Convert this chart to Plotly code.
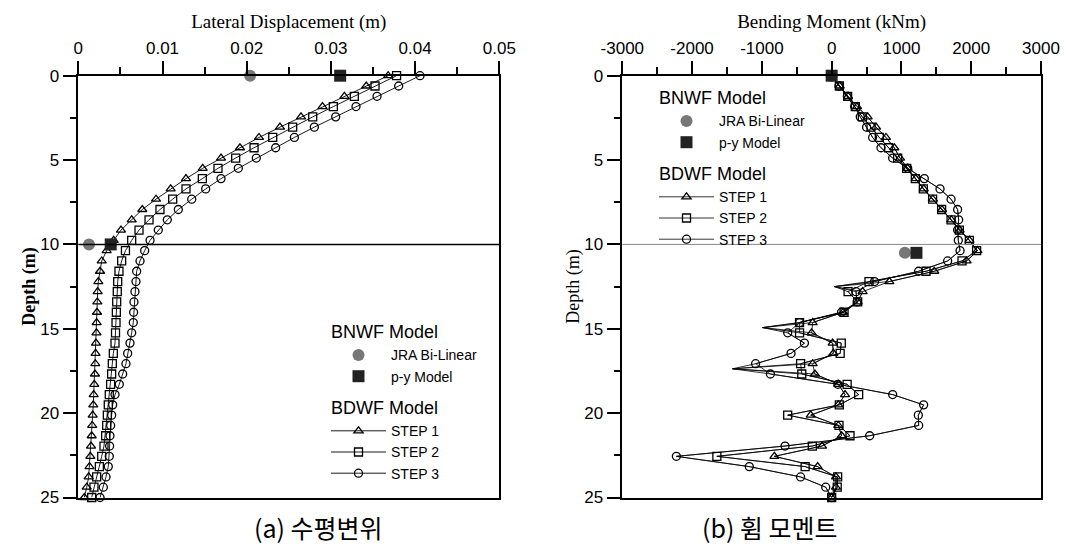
import plotly.graph_objects as go

# ---------------- data ----------------
depth = [0.00, 0.61, 1.22, 1.83, 2.44, 3.05, 3.66, 4.27, 4.88, 5.49, 6.10, 6.71, 7.32, 7.93,
         8.54, 9.15, 9.76, 10.37, 10.98, 11.59, 12.20, 12.80, 13.41, 14.02, 14.63, 15.24, 15.85,
         16.46, 17.07, 17.68, 18.29, 18.90, 19.51, 20.12, 20.73, 21.34, 21.95, 22.56, 23.17,
         23.78, 24.39, 25.00]

disp_step1 = [0.0368, 0.0342, 0.0316, 0.0290, 0.02645, 0.02395, 0.02146, 0.0192, 0.01695, 0.01477,
              0.01279, 0.01097, 0.00923, 0.0076, 0.00634, 0.00507, 0.0042, 0.00337, 0.00278, 0.00258,
              0.00238, 0.0023, 0.00226, 0.00222, 0.00218, 0.00216, 0.0021, 0.00205, 0.00202, 0.00198,
              0.0019, 0.00183, 0.00178, 0.00171, 0.00165, 0.00159, 0.00151, 0.00143, 0.00133, 0.00123,
              0.001, 0.00071]
disp_step2 = [0.0378, 0.03524, 0.03278, 0.03029, 0.02784, 0.02546, 0.02309, 0.02087, 0.01869, 0.01659,
              0.01473, 0.01279, 0.01121, 0.0097, 0.0084, 0.00721, 0.00634, 0.0056, 0.00515, 0.00483,
              0.00468, 0.00463, 0.00456, 0.00452, 0.00448, 0.00442, 0.00436, 0.00416, 0.00404, 0.00396,
              0.00384, 0.00368, 0.00356, 0.00345, 0.00337, 0.00325, 0.00305, 0.00278, 0.0025, 0.00218,
              0.00186, 0.00159]
disp_step3 = [0.04058, 0.03805, 0.03548, 0.03298, 0.03057, 0.02803, 0.02566, 0.02344, 0.02114, 0.019,
              0.01695, 0.01513, 0.01347, 0.01188, 0.01057, 0.0095, 0.00852, 0.00788, 0.00733, 0.00693,
              0.00685, 0.00673, 0.00661, 0.00657, 0.00653, 0.00634, 0.00614, 0.00586, 0.00566, 0.00527,
              0.00487, 0.00436, 0.00408, 0.00396, 0.00384, 0.00376, 0.00372, 0.00368, 0.00356, 0.00329,
              0.00297, 0.00258]

moment_step1 = [0, 115, 235, 364, 516, 636, 779, 898, 980, 1089, 1205, 1320, 1450, 1580, 1715, 1835,
                1975, 2090, 1934, 1471, 827, 444, 373, 165, -272, -287, 14, 24, -272, -240, 96, 192,
                95, -300, 95, 143, -138, -821, -200, 62, 62, 0]
moment_step2 = [0, 110, 229, 340, 440, 564, 683, 816, 946, 1075, 1199, 1314, 1447, 1576, 1711, 1830,
                1973, 2077, 1868, 1352, 535, 235, 373, 178, -460, -460, 138, 122, -445, -428, 222, 387,
                110, -630, 105, 263, -277, -1645, -380, 86, 80, 0]
moment_step3 = [0, 105, 225, 330, 410, 501, 587, 707, 874, 1090, 1328, 1553, 1711, 1805, 1820, 1805,
                1815, 1840, 1662, 1246, 615, 349, 365, 141, -460, -630, -390, -582, -1090, -878, 90, 874,
                1318, 1242, 1247, 545, -668, -2225, -1180, -445, -85, 0]

# line-only vertices (sharp spikes in the moment curves, no marker)
spike_depth = [12.50, 14.93, 17.37]
spike_moment = [39, -990, -1420]

# BNWF model results
bnwf_disp_depth = [0, 10]
jra_disp = [0.0204, 0.00127]
py_disp = [0.0311, 0.00385]
bnwf_mom_depth = [0, 10.5]
jra_moment = [0, 1050]
py_moment = [0, 1215]

boundary_depth = 10

disp_ticks = [0, 0.01, 0.02, 0.03, 0.04, 0.05]
disp_ticklabels = ['0', '0.01', '0.02', '0.03', '0.04', '0.05']
mom_ticks = [-3000, -2000, -1000, 0, 1000, 2000, 3000]
mom_ticklabels = ['-3000', '-2000', '-1000', '0', '1000', '2000', '3000']
depth_ticks = [0, 5, 10, 15, 20, 25]

# ---------------- figure ----------------
W, H = 1066, 544
SANS = 'Liberation Sans'
SERIF = 'Liberation Serif'

fig = go.Figure()

steps = [('STEP 1', 'triangle-up-open', 8), ('STEP 2', 'square-open', 8), ('STEP 3', 'circle-open', 8)]
disp_series = [disp_step1, disp_step2, disp_step3]
mom_series = [moment_step1, moment_step2, moment_step3]
GT_FONT = dict(family=SANS, size=18, color='black')


def merged(values, extra_d, extra_v):
    pts = list(zip(depth, values)) + list(zip(extra_d, extra_v))
    pts.sort(key=lambda p: p[0])
    return [p[1] for p in pts], [p[0] for p in pts]


for k, (name, sym, sz) in enumerate(steps):
    # left panel
    fig.add_trace(go.Scatter(
        x=disp_series[k], y=depth, mode='lines+markers', name=name,
        line=dict(color='black', width=0.9),
        marker=dict(symbol=sym, size=sz, color='black', line=dict(color='black', width=1.3)),
        xaxis='x', yaxis='y', legend='legend', legendgroup='bdwf', legendrank=10 + k,
        legendgrouptitle=dict(text='BDWF Model', font=GT_FONT),
        cliponaxis=False))
    # right panel: line including spikes, markers only at nodes
    lx, ly = merged(mom_series[k], spike_depth, spike_moment)
    fig.add_trace(go.Scatter(
        x=lx, y=ly, mode='lines', showlegend=False,
        line=dict(color='black', width=0.8), xaxis='x2', yaxis='y2', cliponaxis=False))
    fig.add_trace(go.Scatter(
        x=mom_series[k], y=depth, mode='lines+markers', name=name,
        line=dict(color='black', width=0.8),
        marker=dict(symbol=sym, size=sz, color='black', line=dict(color='black', width=1.3)),
        xaxis='x2', yaxis='y2', legend='legend2', legendgroup='bdwf2', legendrank=10 + k,
        legendgrouptitle=dict(text='BDWF Model', font=GT_FONT),
        cliponaxis=False))

# BNWF markers
for xa, ya, lg, dd, jv, pv, grp in [('x', 'y', 'legend', bnwf_disp_depth, jra_disp, py_disp, 'bnwf'),
                                    ('x2', 'y2', 'legend2', bnwf_mom_depth, jra_moment, py_moment, 'bnwf2')]:
    fig.add_trace(go.Scatter(
        x=jv, y=dd, mode='markers', name='JRA Bi-Linear',
        marker=dict(symbol='circle', size=12, color='#777777'),
        xaxis=xa, yaxis=ya, legend=lg, legendgroup=grp, legendrank=1,
        legendgrouptitle=dict(text='BNWF Model', font=GT_FONT),
        cliponaxis=False))
    fig.add_trace(go.Scatter(
        x=pv, y=dd, mode='markers', name='p-y Model',
        marker=dict(symbol='square', size=12, color='#222222'),
        xaxis=xa, yaxis=ya, legend=lg, legendgroup=grp, legendrank=2,
        cliponaxis=False))

x1dom = [78.3 / W, 499.3 / W]
x2dom = [622.3 / W, 1041.0 / W]
ydom = [1 - 497.5 / H, 1 - 75.7 / H]

tickfont = dict(family=SANS, size=17, color='black')
common_x = dict(side='top', showline=True, linecolor='black', linewidth=1.5, mirror=True,
                ticks='outside', ticklen=13, tickwidth=1.5, tickcolor='black', automargin=False,
                showgrid=False, zeroline=False, tickfont=tickfont)
common_y = dict(showline=True, linecolor='black', linewidth=1.5, mirror=True, automargin=False,
                ticks='outside', ticklen=14, tickwidth=1.5, tickcolor='black',
                showgrid=False, zeroline=False, tickfont=tickfont, autorange=False,
                range=[25, 0], tickvals=depth_ticks,
                minor=dict(dtick=2.5, ticks='outside', ticklen=7, tickwidth=1.5, tickcolor='black'))

legend_common = dict(xanchor='left', yanchor='top', bgcolor='rgba(0,0,0,0)',
                     font=dict(family=SANS, size=14, color='black'),
                     traceorder='grouped', tracegroupgap=7, itemwidth=55)

fig.update_layout(
    width=W, height=H, margin=dict(l=0, r=0, t=0, b=0, autoexpand=False),
    paper_bgcolor='white', plot_bgcolor='white',
    xaxis=dict(common_x, domain=x1dom, anchor='y', range=[0, 0.05], tickvals=disp_ticks,
               ticktext=disp_ticklabels,
               minor=dict(dtick=0.005, ticks='outside', ticklen=7, tickwidth=1.5, tickcolor='black'),
               title=dict(text='Lateral Displacement (m)', font=dict(family=SERIF, size=19, color='black'),
                          standoff=6)),
    yaxis=dict(common_y, domain=ydom, anchor='x',
               title=dict(text='<b>Depth (m)</b>', font=dict(family=SERIF, size=18, color='black'),
                          standoff=0)),
    xaxis2=dict(common_x, domain=x2dom, anchor='y2', range=[-3000, 3000], tickvals=mom_ticks,
                ticktext=mom_ticklabels,
                minor=dict(dtick=500, ticks='outside', ticklen=7, tickwidth=1.5, tickcolor='black'),
                title=dict(text='Bending Moment (kNm)', font=dict(family=SERIF, size=19, color='black'),
                           standoff=6)),
    yaxis2=dict(common_y, domain=ydom, anchor='x2',
                title=dict(text='Depth (m)', font=dict(family=SERIF, size=18, color='black'),
                           standoff=0)),
    legend=dict(legend_common, x=326 / W, y=1 - 313 / H),
    legend2=dict(legend_common, x=654 / W, y=1 - 79 / H),
    showlegend=True,
)

# boundary line at depth 10
fig.add_shape(type='line', xref='x domain', yref='y', x0=0, x1=1, y0=boundary_depth, y1=boundary_depth,
              line=dict(color='black', width=1.5))
fig.add_shape(type='line', xref='x2 domain', yref='y2', x0=0, x1=1, y0=boundary_depth, y1=boundary_depth,
              line=dict(color='#888888', width=1))

# captions
fig.add_annotation(text='(a) 수평변위', xref='paper', yref='paper', x=252 / W,
                   y=1 - 527 / H, yanchor='middle', showarrow=False,
                   font=dict(family='Noto Sans CJK KR', size=25, color='black'))
fig.add_annotation(text='(b) 휨 모멘트', xref='paper', yref='paper', x=840 / W,
                   y=1 - 527 / H, yanchor='middle', showarrow=False,
                   font=dict(family='Noto Sans CJK KR', size=25, color='black'))

fig.write_html('out.html')
